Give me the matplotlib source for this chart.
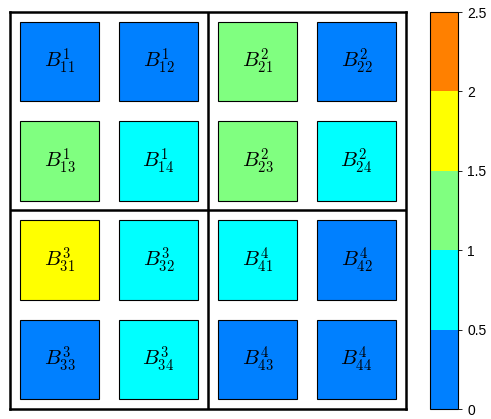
import matplotlib
matplotlib.use('Agg')
import matplotlib.pyplot as plt
from matplotlib.colors import ListedColormap, BoundaryNorm
from matplotlib.patches import Rectangle
import matplotlib.colorbar as mcolorbar

plt.rcParams['mathtext.fontset'] = 'cm'

# block labels, row by row from the top
labels = [
    ['B^1_{11}', 'B^1_{12}', 'B^2_{21}', 'B^2_{22}'],
    ['B^1_{13}', 'B^1_{14}', 'B^2_{23}', 'B^2_{24}'],
    ['B^3_{31}', 'B^3_{32}', 'B^4_{41}', 'B^4_{42}'],
    ['B^3_{33}', 'B^3_{34}', 'B^4_{43}', 'B^4_{44}'],
]
values = [
    [0.25, 0.25, 1.25, 0.25],
    [1.25, 0.75, 1.25, 0.75],
    [1.75, 0.75, 0.75, 0.25],
    [0.25, 0.75, 0.25, 0.25],
]
levels = [0, 0.5, 1, 1.5, 2, 2.5]
level_colors = ['#0080ff', '#00ffff', '#80ff80', '#ffff00', '#ff8000']

cmap = ListedColormap(level_colors)
norm = BoundaryNorm(levels, cmap.N)

fig = plt.figure(figsize=(4.91, 4.19), dpi=100)
ax = fig.add_axes([10/491, 10/419, 396/491, 397/419])

n = len(labels)
for i in range(n):
    for j in range(n):
        y = n - 1 - i
        ax.add_patch(Rectangle((j + 0.1, y + 0.1), 0.8, 0.8,
                               facecolor=cmap(norm(values[i][j])),
                               edgecolor='black', linewidth=0.8))
        ax.text(j + 0.5, y + 0.5, '$' + labels[i][j] + '$',
                ha='center', va='center', fontsize=15)

ax.axvline(2, color='black', linewidth=1.8)
ax.axhline(2, color='black', linewidth=1.8)
ax.set_xlim(0, 4)
ax.set_ylim(0, 4)
ax.set_xticks([])
ax.set_yticks([])
for s in ax.spines.values():
    s.set_linewidth(1.8)

cax = fig.add_axes([430/491, 10/419, 28/491, 397/419])
cb = mcolorbar.ColorbarBase(cax, cmap=cmap, norm=norm, boundaries=levels,
                            ticks=levels)
cb.ax.set_yticklabels(['0', '0.5', '1', '1.5', '2', '2.5'])
cb.ax.tick_params(labelsize=10, length=3, width=0.6)
for t in cb.ax.get_yticklabels():
    t.set_family('Liberation Sans')
cb.outline.set_linewidth(0.8)

fig.savefig('out.png', dpi=100)
